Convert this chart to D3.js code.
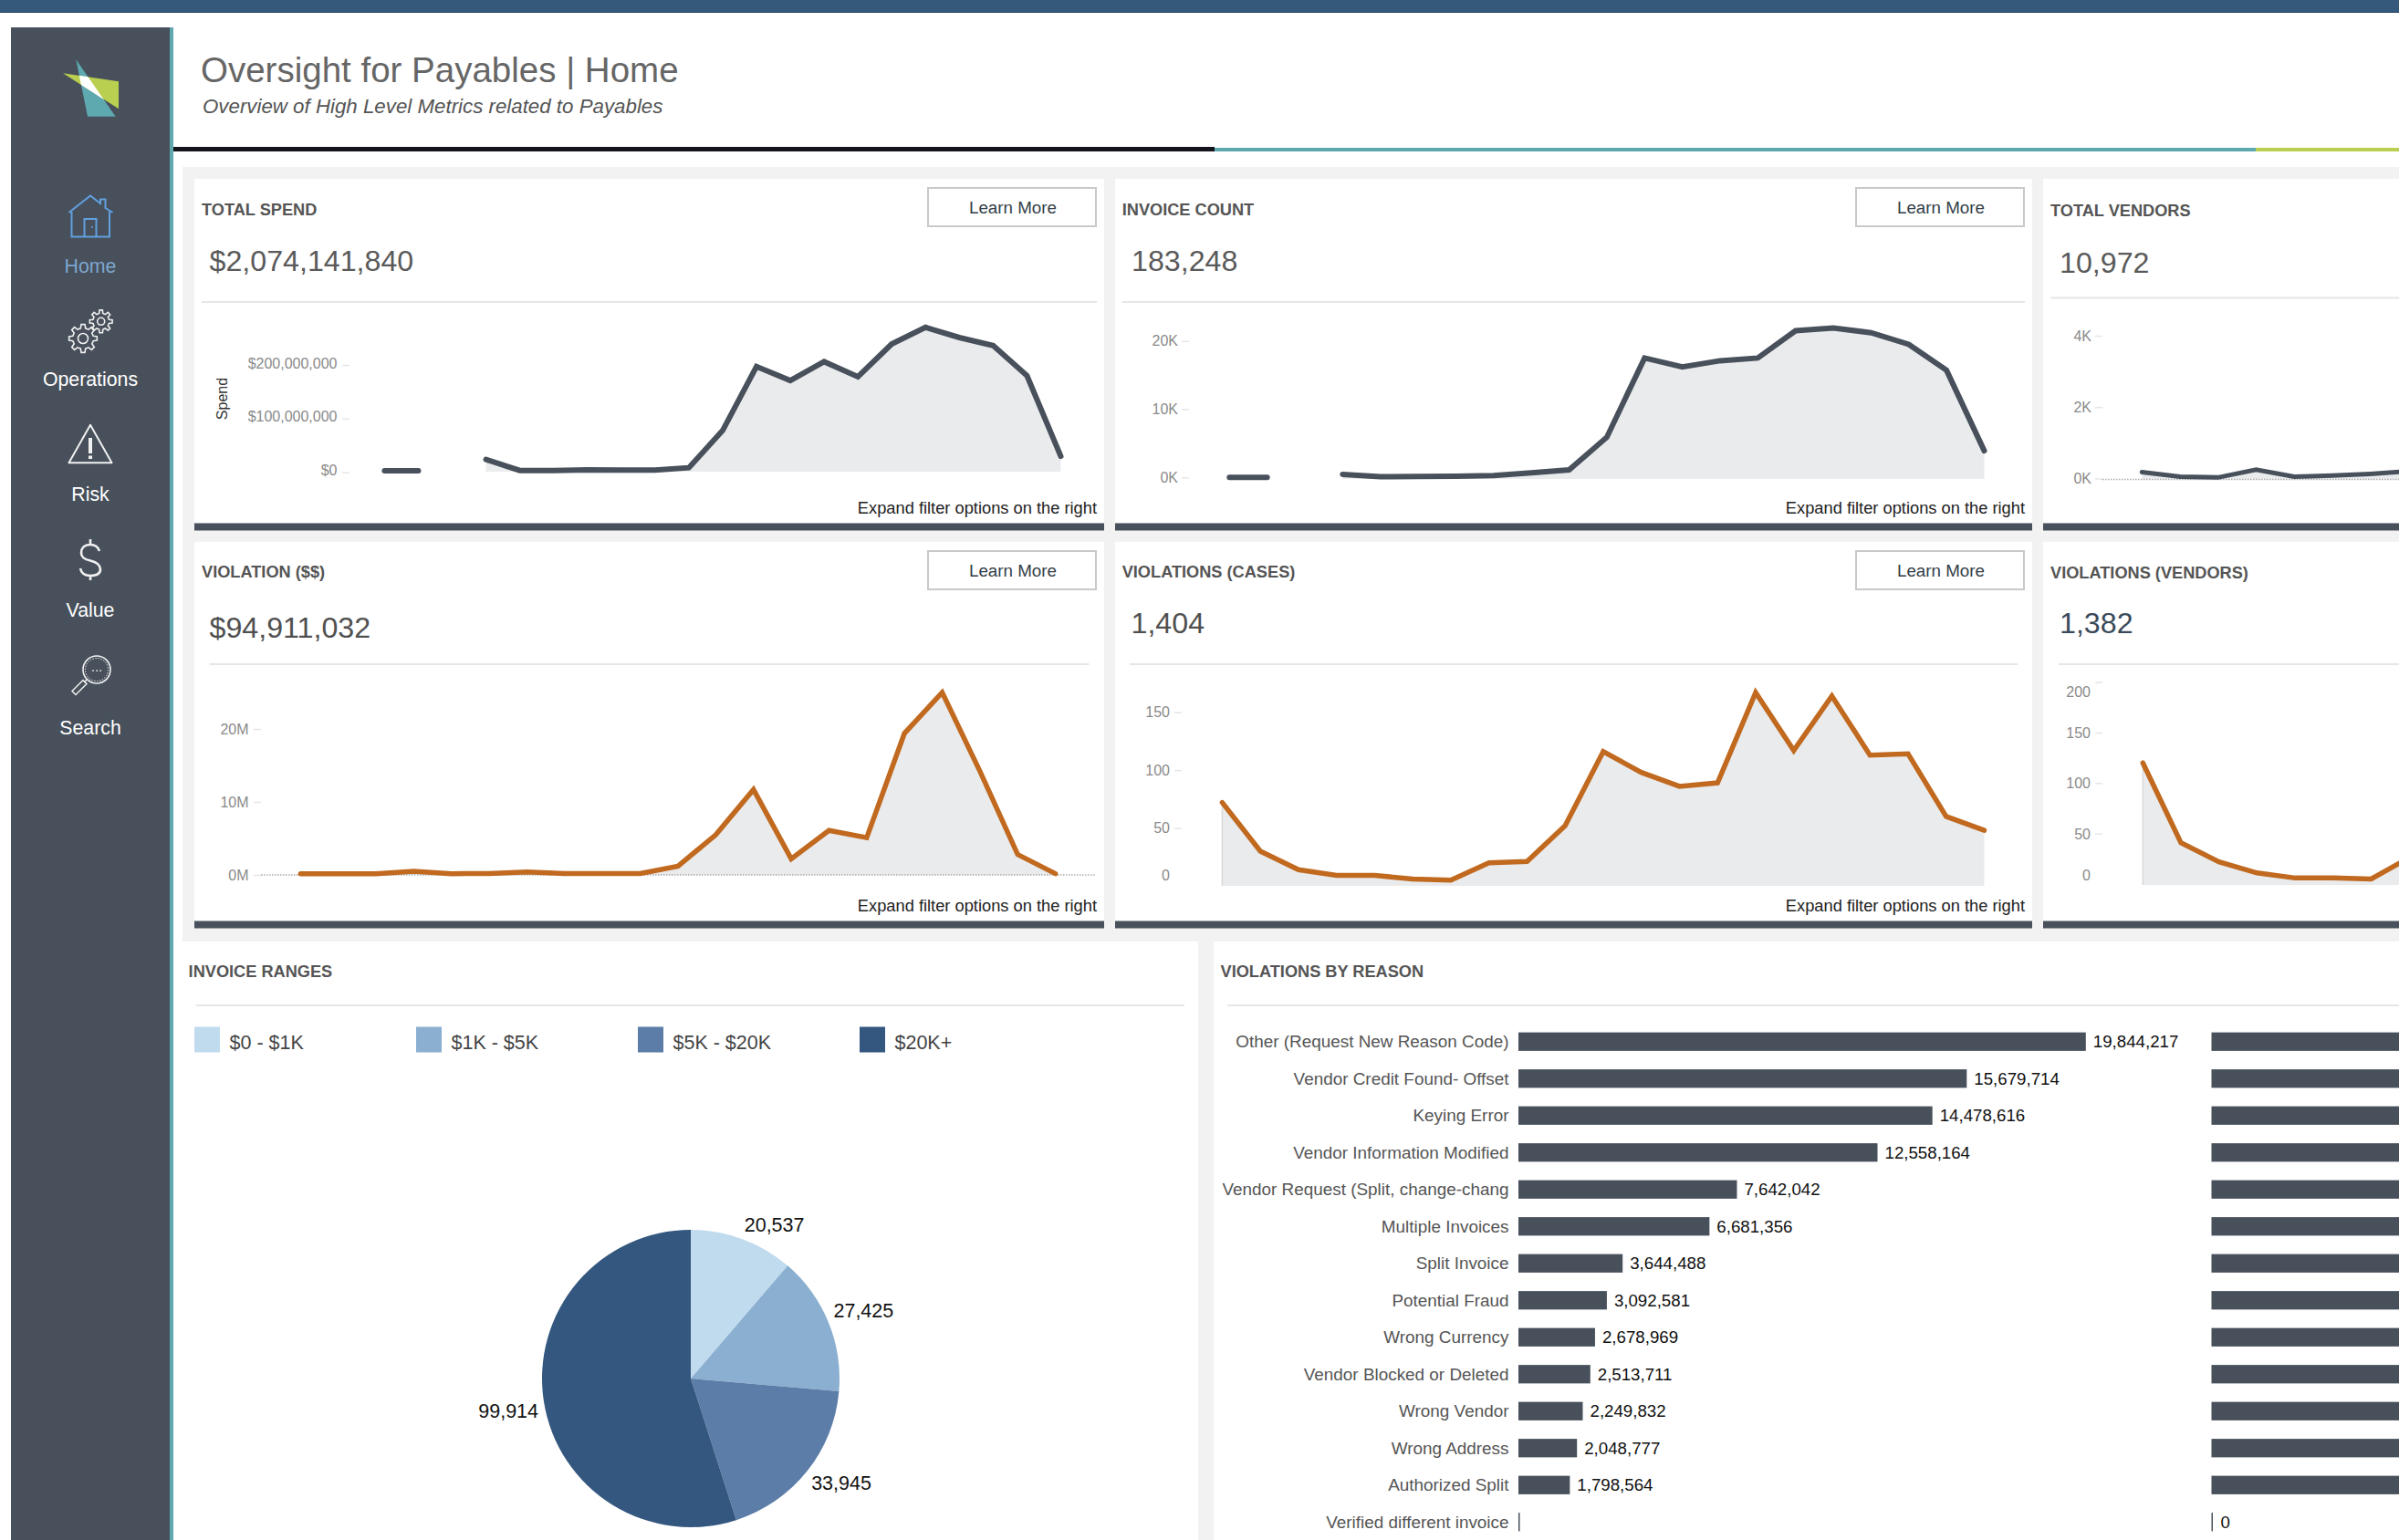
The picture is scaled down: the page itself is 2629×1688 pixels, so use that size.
<!DOCTYPE html>
<html lang="en">
<head>
<meta charset="UTF-8">
<title>Oversight for Payables | Home</title>
<style>
  html, body { margin: 0; padding: 0; background: #fff; overflow: hidden; }
  svg { display: block; font-family: "Liberation Sans", Arial, sans-serif; }
</style>
</head>
<body>
<script src="https://d3js.org/d3.v7.min.js"></script>
<script>
// values, null = gap in the line
const spendValues = [2.8e6, 2.8e6, null, 24e6, 3.4e6, 3.4e6, 4.5e6, 4e6, 4e6, 8.5e6, 78e6, 197e6, 171e6, 206e6, 178e6, 239e6, 270e6, 251e6, 236e6, 180e6, 30e6]
const invoiceValues = [0, 0, null, 450, 100, 130, 180, 270, 670, 1100, 5900, 17500, 16200, 17100, 17500, 21500, 21900, 21200, 19500, 15700, 3900]
const vendorValues = [180, 50, 30, 250, 50, 80, 130, 200]
const violationDollarValues = [0.17e6, 0.17e6, 0.17e6, 0.5e6, 0.17e6, 0.2e6, 0.4e6, 0.2e6, 0.2e6, 0.2e6, 1.2e6, 5.5e6, 11.7e6, 2.2e6, 6.1e6, 5.1e6, 19.4e6, 25e6, 14.2e6, 2.8e6, 0.17e6]
const violationCaseValues = [72, 30, 14, 9, 9, 6, 5, 20, 21, 52, 116, 98, 86, 89, 167, 117, 164, 113, 114, 60, 48]
const violationVendorValues = [120, 41, 22, 11, 6, 6, 5, 26]

const rangeLabels = ['$0 - $1K', '$1K - $5K', '$5K - $20K', '$20K+']
const rangeValues = [20537, 27425, 33945, 99914]
const rangeColors = ['#c0dbee', '#8aafd0', '#5b7da8', '#34577f']

const reasons = ['Other (Request New Reason Code)', 'Vendor Credit Found- Offset', 'Keying Error', 'Vendor Information Modified', 'Vendor Request (Split, change-chang', 'Multiple Invoices', 'Split Invoice', 'Potential Fraud', 'Wrong Currency', 'Vendor Blocked or Deleted', 'Wrong Vendor', 'Wrong Address', 'Authorized Split', 'Verified different invoice']
const reasonDollars = [19844217, 15679714, 14478616, 12558164, 7642042, 6681356, 3644488, 3092581, 2678969, 2513711, 2249832, 2048777, 1798564, 0]
// second bar column runs off the page, only the zero is readable. rest is a guess
const reasonCases = [330, 240, 200, 150, 110, 90, 70, 60, 50, 35, 30, 25, 14, 0]

const navLabels = ['Home', 'Operations', 'Risk', 'Value', 'Search']

const W = 2629, H = 1688
const slate = '#47505b', orange = '#c0691f', teal = '#5ea8b0', lime = '#b9cf4f'
const panelGrey = '#f2f2f2', ruleGrey = '#e6e6e6'

const svg = d3.select('body').append('svg').attr('width', W).attr('height', H)

function rect(x, y, w, h, fill) {
  return svg.append('rect').attr('x', x).attr('y', y).attr('width', w).attr('height', h).attr('fill', fill)
}
function label(x, y, str, size, fill, opts = {}) {
  return svg.append('text').attr('x', x).attr('y', y).text(str)
    .attr('font-size', size).attr('fill', fill)
    .attr('font-weight', opts.weight || 'normal')
    .attr('font-style', opts.style || 'normal')
    .attr('text-anchor', opts.anchor || 'start')
}

// page chrome
rect(0, 0, W, 13, '#34597a')
rect(0, 13, W, 1, '#1f3f5f')
rect(12, 30, 174, H - 30, slate)
rect(186, 30, 4, H - 30, teal)
rect(190, 161, 1141, 5, '#14141c')
rect(1331, 162, 1141, 4, teal)
rect(2472, 162, W - 2472, 4, lime)
label(220, 90, 'Oversight for Payables | Home', 38.5, '#666')
label(222, 123.5, 'Overview of High Level Metrics related to Payables', 22.3, '#555', { style: 'italic' })

// grey backing behind the cards
rect(200, 183, W - 200, 849, panelGrey)
rect(1313, 1032, 17, H - 1032, panelGrey)

// sidebar logo
const defs = svg.append('defs')
const tealPts = '83.3,65.3 126.7,127.7 96,127.7'
const limePts = '69,80.3 130,89.3 130,119.3'
defs.append('clipPath').attr('id', 'logoClip').append('polygon').attr('points', tealPts)
svg.append('polygon').attr('points', tealPts).attr('fill', teal)
svg.append('polygon').attr('points', limePts).attr('fill', lime)
svg.append('polygon').attr('points', limePts).attr('fill', '#fff').attr('clip-path', 'url(#logoClip)')

// sidebar icons
const homeBlue = '#62a0e0', iconWhite = '#f0f0f0'
const navY = [298.5, 422.7, 548.5, 676, 804.5]
navLabels.forEach((d, i) => {
  label(99, navY[i], d, 21.3, i === 0 ? '#7ea6cf' : '#fff', { anchor: 'middle' })
})

svg.append('path').attr('fill', 'none').attr('stroke', homeBlue).attr('stroke-width', 2)
  .attr('d', 'M75.5,233 L99,214.5 L110,223 V218.5 H115.5 V228 L123.5,233 M78.5,232 V259.5 H120 V232 M92.5,259.5 V240 H105.5 V259.5')
svg.append('circle').attr('cx', 101).attr('cy', 249).attr('r', 1).attr('fill', homeBlue)

function gearPath(cx, cy, rOut, rIn, teeth) {
  const pts = []
  for (let i = 0; i < teeth; i++) {
    const a = i / teeth * 2 * Math.PI, s = 2 * Math.PI / teeth
    ;[[-0.3, rIn], [-0.17, rOut], [0.17, rOut], [0.3, rIn]].forEach(p => {
      pts.push([cx + p[1] * Math.cos(a + p[0] * s), cy + p[1] * Math.sin(a + p[0] * s)])
    })
  }
  return 'M' + pts.map(p => p.join(',')).join('L') + 'Z'
}
const icons = svg.append('g').attr('fill', 'none').attr('stroke', iconWhite).attr('stroke-width', 1.6)
icons.append('path').attr('d', gearPath(91, 371, 15.5, 11.5, 8))
icons.append('circle').attr('cx', 91).attr('cy', 371).attr('r', 5.5)
icons.append('path').attr('d', gearPath(110.7, 352.3, 12.5, 9, 8))
icons.append('circle').attr('cx', 110.7).attr('cy', 352.3).attr('r', 4)

icons.append('path').attr('stroke-linejoin', 'round').attr('stroke-width', 2)
  .attr('d', 'M99,465.7 L75.5,507.3 H122.5 Z')
rect(97, 480, 4, 17, iconWhite)
rect(97, 499.5, 4, 3.5, iconWhite)

icons.append('path').attr('stroke-width', 2.6)
  .attr('d', 'M109,604 C107,598 103,597 99,597 C92,597 89,601 89,606 C89,612 94,613.5 99,614.5 C105,616 110,619 110,624 C110,629 105,631 99,631 C93,631 89,628 88,623 M99,591 V597 M99,631 V636')

icons.append('circle').attr('cx', 106).attr('cy', 734).attr('r', 15)
icons.append('circle').attr('cx', 106).attr('cy', 734).attr('r', 12.5).attr('stroke-width', 1).attr('stroke-dasharray', '1.5 1.5')
icons.append('path').attr('stroke-width', 1.5).attr('d', 'M95,745 L92,748 M91,745.5 L95,749.5 L83,761.5 L79,757.5 Z')
label(106, 736, '...', 15, iconWhite, { anchor: 'middle' })

// KPI cards
const cards = [
  { title: 'TOTAL SPEND', kpi: '$2,074,141,840', x0: 213, x1: 1210, titleX: 221, kpiX: 229.5, top: 196, barY: 573.5, titleY: 236, kpiY: 297, ruleY: 331, ruleX0: 221, ruleX1: 1202, more: true, kpiColor: '#5a5a5a',
    values: spendValues, color: slate, width: 6, xr: [421.4, 1162.5], yd: [0, 200e6], yr: [517.7, 400], base: 517, ticks: [0, 100e6, 200e6], fmt: d => d3.format('$,')(d), axisX: 383, textDy: -2, pad: 5.5 },
  { title: 'INVOICE COUNT', kpi: '183,248', x0: 1222, x1: 2227, titleX: 1229.7, kpiX: 1240, top: 196, barY: 573.5, titleY: 236, kpiY: 297, ruleY: 331, ruleX0: 1229.7, ruleX1: 2219, more: true, kpiColor: '#5a5a5a',
    values: invoiceValues, color: slate, width: 6, xr: [1347.3, 2174.5], yd: [0, 20000], yr: [523.3, 373.7], base: 525, ticks: [0, 10000, 20000], fmt: d => d / 1000 + 'K', axisX: 1303 },
  { title: 'TOTAL VENDORS', kpi: '10,972', x0: 2239, x1: W, titleX: 2247, kpiX: 2257, top: 196, barY: 573.5, titleY: 236.5, kpiY: 299, ruleY: 326.5, ruleX0: 2247, ruleX1: W, more: false, kpiColor: '#5a5a5a',
    values: vendorValues, color: slate, width: 5, step: 41.7, xStart: 2347.3, yd: [0, 4000], yr: [524.5, 368], base: 525.5, ticks: [0, 2000, 4000], fmt: d => d / 1000 + 'K', axisX: 2304, dots: W },
  { title: 'VIOLATION ($$)', kpi: '$94,911,032', x0: 213, x1: 1210, titleX: 221, kpiX: 229.5, top: 594, barY: 1009.5, titleY: 633.2, kpiY: 698.5, ruleY: 728, ruleX0: 229.5, ruleX1: 1193.5, more: true, kpiColor: '#505050',
    values: violationDollarValues, color: orange, width: 5.5, xr: [329.4, 1156.6], yd: [0, 20e6], yr: [959, 799], base: 959, ticks: [0, 10e6, 20e6], fmt: d => d / 1e6 + 'M', axisX: 286, dots: 1200, pad: 5.5 },
  { title: 'VIOLATIONS (CASES)', kpi: '1,404', x0: 1222, x1: 2227, titleX: 1229.7, kpiX: 1239.5, top: 594, barY: 1009.5, titleY: 633.2, kpiY: 694, ruleY: 728, ruleX0: 1238, ruleX1: 2211, more: true, kpiColor: '#505050',
    values: violationCaseValues, color: orange, width: 5.5, xr: [1339.4, 2174.5], yd: [0, 150], yr: [971, 780.7], base: 971, ticks: [0, 50, 100, 150], fmt: d => d, axisX: 1295, nudge: { 0: -12 }, edge: true, pad: 5 },
  { title: 'VIOLATIONS (VENDORS)', kpi: '1,382', x0: 2239, x1: W, titleX: 2247, kpiX: 2257, top: 594, barY: 1009.5, titleY: 634, kpiY: 693.5, ruleY: 728, ruleX0: 2255.7, ruleX1: W, more: false, kpiColor: '#3a4a5a',
    values: violationVendorValues, color: orange, width: 5.5, step: 41.7, xStart: 2348.3, yd: [0, 200], yr: [969, 747.7], base: 970, ticks: [0, 50, 100, 150, 200], fmt: d => d, axisX: 2304, nudge: { 0: -10, 200: 11 }, edge: true, textDy: 0.5, pad: 5 }
]

cards.forEach(c => {
  rect(c.x0, c.top, c.x1 - c.x0, c.barY - c.top, '#fff')
  rect(c.x0, c.barY, c.x1 - c.x0, 8, slate)
  label(c.titleX, c.titleY, c.title, 18.2, '#555', { weight: 'bold' })
  label(c.kpiX, c.kpiY, c.kpi, 32.2, c.kpiColor)
  rect(c.ruleX0, c.ruleY - 1, c.ruleX1 - c.ruleX0, 2, ruleGrey)

  if (c.more) {
    svg.append('rect').attr('x', c.x1 - 193).attr('y', c.top + 10).attr('width', 184).attr('height', 42)
      .attr('fill', '#fff').attr('stroke', '#c9c9c9').attr('stroke-width', 2)
    label(c.x1 - 100, c.top + 38, 'Learn More', 18.8, '#333e48', { anchor: 'middle' })
    label(c.x1 - 8, c.barY - 11, 'Expand filter options on the right', 18.3, '#222', { anchor: 'end' })
  }

  const n = c.values.length
  const x = d3.scaleLinear()
    .domain(c.step ? [0, 1] : [0, n - 1])
    .range(c.step ? [c.xStart, c.xStart + c.step] : c.xr)
  const y = d3.scaleLinear().domain(c.yd).range(c.yr)

  const axis = d3.axisLeft(y).tickValues(c.ticks).tickSize(8).tickPadding(c.pad || 4).tickFormat(c.fmt)
  const ag = svg.append('g').attr('transform', `translate(${c.axisX},0)`).call(axis)
  ag.select('.domain').remove()
  ag.selectAll('.tick line').attr('stroke', ruleGrey).attr('stroke-width', 1.5)
  ag.selectAll('.tick text').attr('fill', '#8a8a8a').attr('font-size', 16)
    .attr('font-family', '"Liberation Sans", Arial, sans-serif')
    .attr('y', c.textDy || 0)
  if (c.nudge) {
    ag.selectAll('.tick').each(function (d) {
      if (c.nudge[d] !== undefined) {
        d3.select(this).select('text').attr('y', c.nudge[d])
        if (d === 0) d3.select(this).select('line').remove()
      }
    })
  }

  const area = d3.area().defined(d => d !== null)
    .x((d, i) => x(i)).y0(c.base).y1(d => y(d))
  svg.append('path').datum(c.values).attr('d', area).attr('fill', '#eaebed')
  if (c.edge) {
    svg.append('line').attr('x1', x(0)).attr('x2', x(0)).attr('y1', y(c.values[0])).attr('y2', c.base)
      .attr('stroke', '#d8d9db').attr('stroke-width', 1.5)
  }
  if (c.dots) {
    svg.append('line').attr('x1', c.axisX).attr('x2', c.dots).attr('y1', c.base).attr('y2', c.base)
      .attr('stroke', '#aaa').attr('stroke-width', 1.5).attr('stroke-dasharray', '1.5 1.5')
  }

  const line = d3.line().defined(d => d !== null).x((d, i) => x(i)).y(d => y(d))
  svg.append('path').datum(c.values).attr('d', line).attr('fill', 'none')
    .attr('stroke', c.color).attr('stroke-width', c.width).attr('stroke-linecap', 'round').attr('stroke-linejoin', 'miter')
})

svg.append('text').attr('transform', 'translate(249,437) rotate(-90)').text('Spend')
  .attr('font-size', 16).attr('fill', '#333').attr('text-anchor', 'middle')

// invoice ranges
label(206.6, 1071.2, 'INVOICE RANGES', 18.2, '#555', { weight: 'bold' })
rect(215, 1101, 1083, 2, ruleGrey)
const legendX = d3.scalePoint().domain(rangeLabels).range([213, 942])
rangeLabels.forEach((d, i) => {
  rect(legendX(d), 1125.5, 28, 28, rangeColors[i])
  label(legendX(d) + 38.5, 1150.4, d, 21.5, '#444')
})

const pieR = 163, pieX = 757, pieY = 1511
const pie = d3.pie().sort(null)(rangeValues)
const arc = d3.arc().innerRadius(0).outerRadius(pieR)
const pieG = svg.append('g').attr('transform', `translate(${pieX},${pieY})`)
pieG.selectAll('path').data(pie).enter().append('path')
  .attr('d', arc).attr('fill', (d, i) => rangeColors[i])
pie.forEach(d => {
  const mid = (d.startAngle + d.endAngle) / 2
  const px = pieX + (pieR + 6) * Math.sin(mid)
  const py = pieY - (pieR + 6) * Math.cos(mid)
  const below = mid > Math.PI / 2
  label(px, py + (below ? 17 : -3), d3.format(',')(d.value), 21.5, '#111', { anchor: mid > Math.PI ? 'end' : 'start' })
})

// violations by reason
label(1337.5, 1071.2, 'VIOLATIONS BY REASON', 18.2, '#555', { weight: 'bold' })
rect(1345, 1101, W - 1345, 2, ruleGrey)
const rowY = d3.scaleBand().domain(reasons).range([1121.5, 1688.5]).paddingInner(0.5).paddingOuter(0.25)
const dollarX = d3.scaleLinear().domain([0, d3.max(reasonDollars)]).range([1664, 2285.8])
const caseX = d3.scaleLinear().domain([0, 14]).range([2423.5, 2640])

reasons.forEach((d, i) => {
  const cy = rowY(d) + rowY.bandwidth() / 2
  label(1653.5, cy + 6.5, d, 18.9, '#555', { anchor: 'end' })

  const w1 = Math.max(1.5, dollarX(reasonDollars[i]) - dollarX(0))
  rect(dollarX(0), rowY(d), w1, rowY.bandwidth(), slate)
  if (reasonDollars[i] > 0) {
    label(dollarX(reasonDollars[i]) + 8, cy + 6.5, d3.format(',')(reasonDollars[i]), 18.7, '#111')
  }

  const w2 = Math.max(1.5, caseX(reasonCases[i]) - caseX(0))
  rect(caseX(0), rowY(d), w2, rowY.bandwidth(), slate)
  // only the labels that land on the page
  if (caseX(reasonCases[i]) < W) {
    label(caseX(reasonCases[i]) + 10, cy + 6.5, d3.format(',')(reasonCases[i]), 18.7, '#111')
  }
})
</script>
</body>
</html>
